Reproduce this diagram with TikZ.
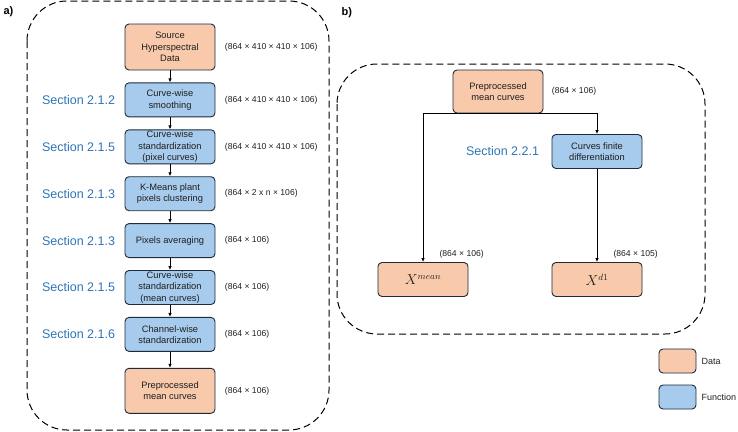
\documentclass[tikz,border=0pt]{standalone}
\usepackage{fontspec}
\setmainfont{Liberation Sans}
\usepackage{tikz}
\usetikzlibrary{arrows.meta,positioning}
\definecolor{dataorange}{HTML}{F8C9AB}
\definecolor{funcblue}{HTML}{A6CBEC}
\definecolor{boxedge}{HTML}{1E2B3A}
\definecolor{secblue}{HTML}{2E75B6}

\begin{document}
\begin{tikzpicture}[
  x=1pt, y=-1pt,
  node distance=12pt and 6pt,
  every node/.style={font=\fontsize{9.3}{11.4}\selectfont, text=black!88},
  data/.style={draw=boxedge, fill=dataorange, rounded corners=4pt, line width=0.9pt,
               minimum width=90pt, minimum height=34pt, align=center,
               inner xsep=1pt, inner ysep=0.3pt},
  func/.style={data, fill=funcblue},
  section/.style={font=\fontsize{12.5}{14}\selectfont, text=secblue},
  dims/.style={font=\fontsize{8.6}{10}\selectfont},
  legendtext/.style={font=\fontsize{9}{11}\selectfont, inner sep=0pt},
  panel/.style={font=\bfseries\fontsize{11}{13}\selectfont, anchor=west, text=black},
  frame/.style={draw=black, dash pattern=on 7pt off 4pt, line width=1pt, rounded corners=40pt},
  arrow/.style={-{Latex[length=4pt,width=3.5pt]}, line width=0.8pt}
]
\useasboundingbox (0,0) rectangle (738,431);

% panel a)
\node[panel] (labela) at (0,12) {a)};
\node[data, minimum height=46pt] (src) at (170,47) {Source\\Hyperspectral\\Data};
\node[func, below=of src] (smooth) {Curve-wise\\smoothing};
\node[func, below=of smooth] (stdpix) {Curve-wise\\standardization\\(pixel curves)};
\node[func, below=of stdpix] (kmeans) {K-Means plant\\pixels clustering};
\node[func, below=of kmeans] (avg) {Pixels averaging};
\node[func, below=of avg] (stdmean) {Curve-wise\\standardization\\(mean curves)};
\node[func, below=of stdmean] (chan) {Channel-wise\\standardization};
\node[data, below=16pt of chan, minimum height=45pt] (prep) {Preprocessed\\mean curves};

\node[section, left=6pt of smooth] (secsmooth) {Section 2.1.2};
\node[section, left=6pt of stdpix] (secstdpix) {Section 2.1.5};
\node[section, left=6pt of kmeans] (seckmeans) {Section 2.1.3};
\node[section, left=6pt of avg] (secavg) {Section 2.1.3};
\node[section, left=6pt of stdmean] (secstdmean) {Section 2.1.5};
\node[section, left=6pt of chan] (secchan) {Section 2.1.6};

\node[dims, right=of src] (dimsrc) {(864 × 410 × 410 × 106)};
\node[dims, right=of smooth] (dimsmooth) {(864 × 410 × 410 × 106)};
\node[dims, right=of stdpix] (dimstdpix) {(864 × 410 × 410 × 106)};
\node[dims, right=of kmeans] (dimkmeans) {(864 × 2 x n × 106)};
\node[dims, right=of avg] (dimavg) {(864 × 106)};
\node[dims, right=of stdmean] (dimstdmean) {(864 × 106)};
\node[dims, right=of chan] (dimchan) {(864 × 106)};
\node[dims, right=of prep] (dimprep) {(864 × 106)};

\draw[arrow] (src) -- (smooth);
\draw[arrow] (smooth) -- (stdpix);
\draw[arrow] (stdpix) -- (kmeans);
\draw[arrow] (kmeans) -- (avg);
\draw[arrow] (avg) -- (stdmean);
\draw[arrow] (stdmean) -- (chan);
\draw[arrow] (chan) -- (prep);

\draw[frame] (27,1) rectangle (329,430);

% panel b)
\node[panel] (labelb) at (338,13) {b)};
\node[data, minimum height=43pt] (prepb) at (498,91.5) {Preprocessed\\mean curves};
\node[dims, right=5pt of prepb] (dimprepb) {(864 × 106)};
\node[func] (diff) at (597,151.5) {Curves finite\\differentiation};
\node[section, left=9pt of diff] (secdiff) {Section 2.2.1};
\node[data, font=\fontsize{13.5}{15}\selectfont] (xmean) at (423,279.5) {$X^{mean}$};
\node[data, font=\fontsize{13.5}{15}\selectfont] (xdone) at (597,279.5) {$X^{d1}$};
\node[dims, anchor=west] (dimxmean) at (436,254) {(864 × 106)};
\node[dims, anchor=west] (dimxdone) at (610,254) {(864 × 105)};

\draw[arrow] (prepb.south) -| (xmean.north);
\draw[arrow] (prepb.south) -| (diff.north);
\draw[arrow] (diff) -- (xdone);

\draw[frame] (337,64) rectangle (705,334);

% legend
\node[data, minimum width=37pt, minimum height=24pt] (legdata) at (677.5,361) {};
\node[legendtext, right=5pt of legdata] (legdatatext) {Data};
\node[func, minimum width=37pt, minimum height=24pt] (legfunc) at (677.5,397) {};
\node[legendtext, right=5pt of legfunc] (legfunctext) {Function};
\end{tikzpicture}
\end{document}
